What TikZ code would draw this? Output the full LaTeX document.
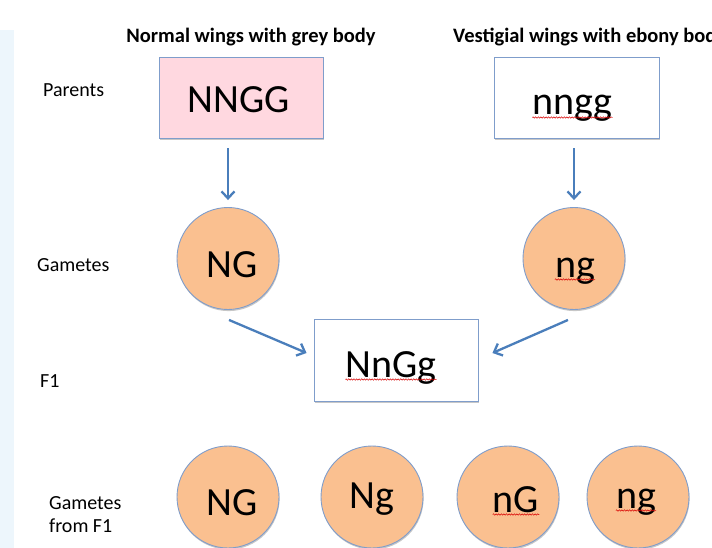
\documentclass[tikz,border=0pt]{standalone}
\usepackage{fontspec}
\setmainfont{Carlito}
\usetikzlibrary{arrows.meta,shadows,decorations.pathmorphing}
\definecolor{boxline}{HTML}{7F9DCB}
\definecolor{arrowblue}{HTML}{4A7EBB}
\definecolor{gamete}{HTML}{FAC090}
\definecolor{parentpink}{HTML}{FFD8E0}
\definecolor{stripblue}{HTML}{EDF6FC}
\begin{document}
\begin{tikzpicture}[x=1pt,y=-1pt,
  softshadow/.style={drop shadow={shadow xshift=0.6pt,shadow yshift=-1.6pt,opacity=0.22,fill=black}},
  genobox/.style={draw=boxline,line width=0.9pt,fill=white,minimum width=164pt,minimum height=81pt,inner sep=0pt,softshadow},
  gamcircle/.style={circle,draw=boxline,line width=0.9pt,fill=gamete,minimum size=102pt,inner sep=0pt,softshadow},
  geno/.style={anchor=base,inner sep=0pt,font=\fontsize{40}{44}\selectfont},
  rowlabel/.style={anchor=base west,inner sep=0pt,font=\fontsize{20}{24}\selectfont},
  title/.style={anchor=base,inner sep=0pt,font=\fontsize{20.5}{24}\selectfont\bfseries},
  arr/.style={draw=arrowblue,line width=2.3pt,-{Straight Barb[length=7pt,width=13pt]}},
  squiggle/.style={draw=red!85!black,line width=0.5pt,decorate,decoration={snake,amplitude=0.7pt,segment length=2.6pt}}]
\useasboundingbox (0,0) rectangle (712,548);

% pale side strip
\fill[stripblue] (0,30) rectangle (14,548);

% headings over the two parents
\node[title] (hnormal) at (251,43) {Normal wings with grey body};
\node[title,anchor=base west] (hvestigial) at (453,43) {Vestigial wings with ebony body};

% row labels
\node[rowlabel] (lparents) at (43,97) {Parents};
\node[rowlabel] (lgametes) at (37,271) {Gametes};
\node[rowlabel] (lf1) at (40,387) {F1};
\node[rowlabel] (lgamf1) at (49,509) {Gametes};
\node[rowlabel] (lgamf1b) at (49,532) {from F1};

% parents
\node[genobox,fill=parentpink] (pnormal) at (241,97.5) {};
\node[genobox,minimum width=165pt] (pvestigial) at (576.5,97.5) {};
\node[geno] (tnormal) at (239,113) {NNGG};
\node[geno] (tvestigial) at (572.5,115) {nngg};

% parental gametes
\node[gamcircle] (gnormal) at (228,258.5) {};
\node[gamcircle] (gvestigial) at (574,258.5) {};
\node[geno] (tgnormal) at (232,277) {NG};
\node[geno] (tgvestigial) at (575,277) {ng};

% F1 hybrid
\node[genobox,minimum height=82pt] (hybrid) at (396,360) {};
\node[geno] (thybrid) at (391,377) {NnGg};

% gametes produced by the F1
\node[gamcircle] (f1a) at (228,497) {};
\node[gamcircle] (f1b) at (372,497) {};
\node[gamcircle] (f1c) at (508,497) {};
\node[gamcircle] (f1d) at (638,497) {};
\node[geno] (tf1a) at (232,515) {NG};
\node[geno] (tf1b) at (372,508) {Ng};
\node[geno] (tf1c) at (516,512) {nG};
\node[geno] (tf1d) at (636,508) {ng};

% arrows
\draw[arr,shorten <=10pt,shorten >=7pt] (pnormal.south -| gnormal.north) -- (gnormal.north);
\draw[arr,shorten <=10pt,shorten >=7pt] (pvestigial.south -| gvestigial.north) -- (gvestigial.north);
\draw[arr] ([xshift=1pt,yshift=-10pt]gnormal.south) -- ([xshift=-7pt,yshift=7pt]hybrid.west);
\draw[arr] ([xshift=-6pt,yshift=-10pt]gvestigial.south) -- ([xshift=14pt,yshift=7pt]hybrid.west -| hybrid.east);

% spell-check underlines
\foreach \t in {tvestigial,tgvestigial,thybrid,tf1c,tf1d}
  \draw[squiggle] ([yshift=-2.5pt]\t.base west) -- ([yshift=-2.5pt]\t.base east);
\end{tikzpicture}
\end{document}
